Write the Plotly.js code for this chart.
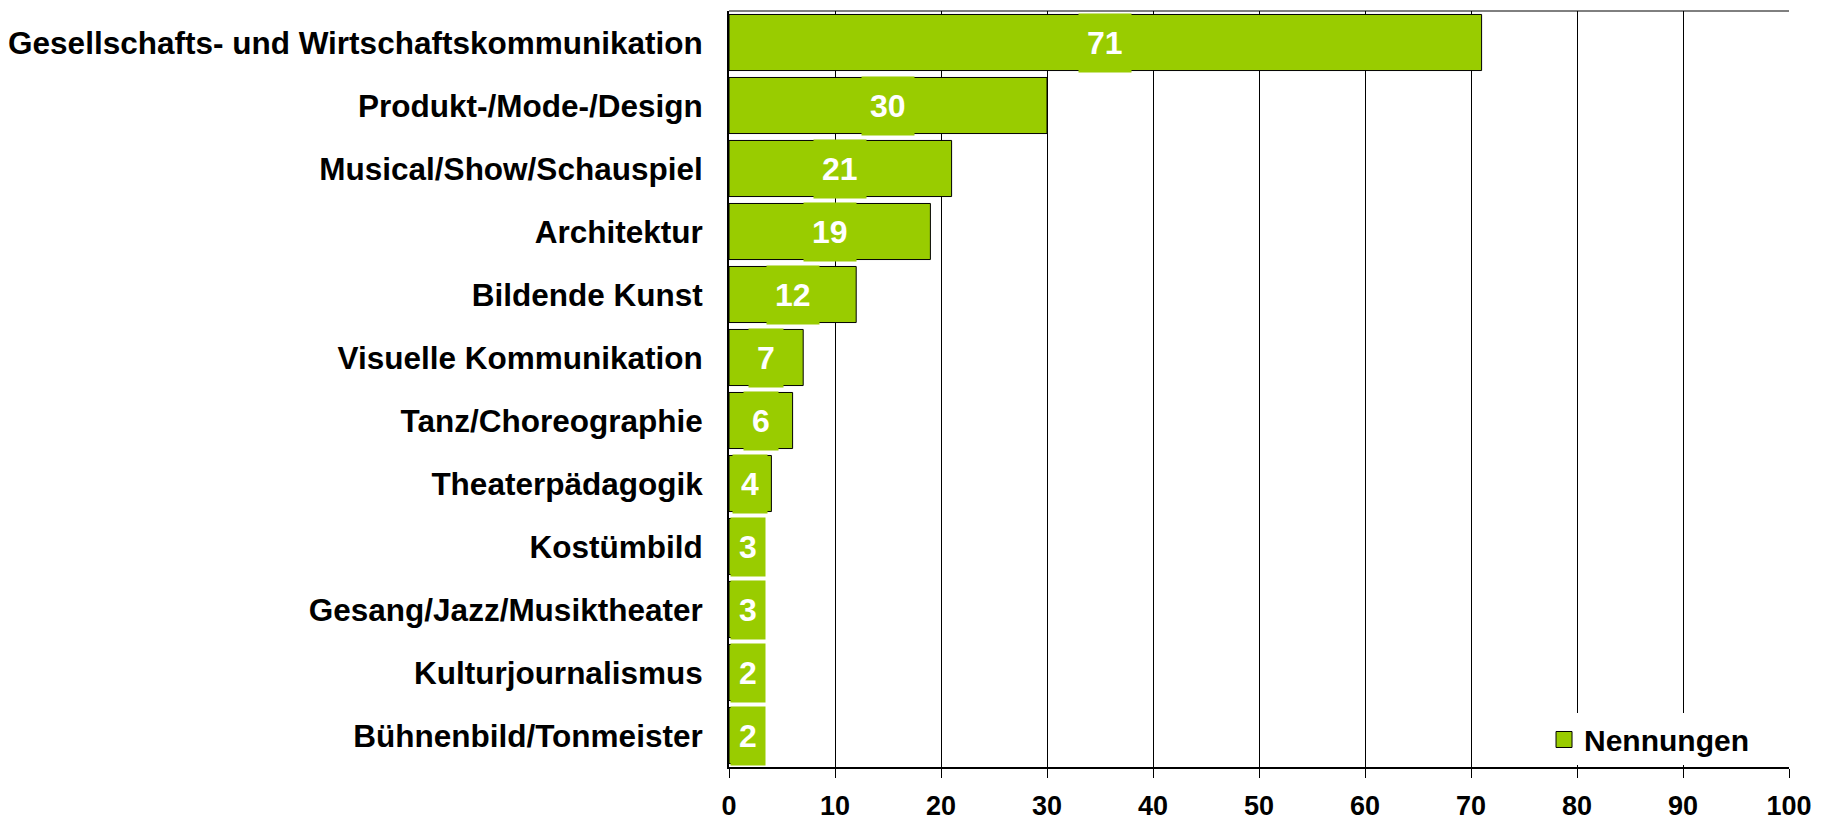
<!DOCTYPE html>
<html>
<head>
<meta charset="utf-8">
<script src="https://cdn.plot.ly/plotly-3.0.1.min.js"></script>
<style>html,body{margin:0;padding:0;background:#fff;}#chart{width:1832px;height:824px;}</style>
</head>
<body>
<div id="chart"></div>
<script>
const categories = [
  "Gesellschafts- und Wirtschaftskommunikation",
  "Produkt-/Mode-/Design",
  "Musical/Show/Schauspiel",
  "Architektur",
  "Bildende Kunst",
  "Visuelle Kommunikation",
  "Tanz/Choreographie",
  "Theaterpädagogik",
  "Kostümbild",
  "Gesang/Jazz/Musiktheater",
  "Kulturjournalismus",
  "Bühnenbild/Tonmeister"
];
const nennungen = [71, 30, 21, 19, 12, 7, 6, 4, 3, 3, 2, 2];
const xTicks = [0, 10, 20, 30, 40, 50, 60, 70, 80, 90, 100];
const seriesName = "Nennungen";

const green = "#99CC00";
const FONT = "Liberation Sans, Arial, sans-serif";

const barTrace = {
  type: "bar",
  orientation: "h",
  x: nennungen,
  y: categories,
  name: seriesName,
  marker: {color: green, line: {color: "#000", width: 1}},
  hoverinfo: "x+y",
  showlegend: false
};

// legend entry (larger square symbol than the bar legend swatch)
const legendTrace = {
  type: "scatter",
  mode: "markers",
  x: [null], y: [null],
  name: seriesName,
  marker: {symbol: "square", size: 19, color: green, line: {color: "#000", width: 1}},
  showlegend: true,
  hoverinfo: "skip"
};

const annotations = nennungen.map((v, i) => {
  const narrow = v <= 3;
  return {
    x: narrow ? 0 : v / 2,
    y: categories[i],
    xref: "x", yref: "y",
    xanchor: narrow ? "left" : "center",
    yanchor: "middle",
    xshift: narrow ? 1 : 0,
    text: String(v),
    showarrow: false,
    bgcolor: green,
    borderpad: 8,
    height: 42,
    font: {family: FONT, size: 32, color: "#fff", weight: "bold"}
  };
});

const layout = {
  width: 1832, height: 824,
  margin: {l: 729, r: 43, t: 11, b: 57},
  paper_bgcolor: "#fff", plot_bgcolor: "#fff",
  font: {family: FONT, color: "#000"},
  bargap: 0.11,
  xaxis: {
    range: [0, 100],
    tickvals: xTicks,
    ticktext: xTicks.map(String),
    showgrid: true, gridcolor: "#000", gridwidth: 1,
    zeroline: false,
    showline: true, linecolor: "#000", linewidth: 2,
    ticks: "outside", ticklen: 9, tickwidth: 1, tickcolor: "#000",
    ticklabelstandoff: 5,
    tickfont: {family: FONT, size: 27, color: "#000", weight: "bold"},
    fixedrange: true
  },
  yaxis: {
    type: "category",
    categoryorder: "array",
    categoryarray: categories,
    autorange: "reversed",
    showgrid: false, zeroline: false,
    showline: true, linecolor: "#000", linewidth: 2,
    ticks: "",
    ticklabelstandoff: 18,
    tickfont: {family: FONT, size: 31.5, color: "#000", weight: "bold"},
    fixedrange: true
  },
  legend: {
    x: 0.967, xanchor: "right", y: 0.002, yanchor: "bottom",
    xref: "paper", yref: "paper",
    bgcolor: "#fff", borderwidth: 0,
    font: {family: FONT, size: 30, color: "#000", weight: "bold"},
    itemsizing: "trace"
  },
  shapes: [
    {type: "line", xref: "paper", yref: "paper", x0: 0, x1: 1, y0: 1, y1: 1, line: {color: "#000", width: 1}}
  ],
  annotations: annotations
};

Plotly.newPlot("chart", [barTrace, legendTrace], layout, {displayModeBar: false, staticPlot: true});
</script>
</body>
</html>
